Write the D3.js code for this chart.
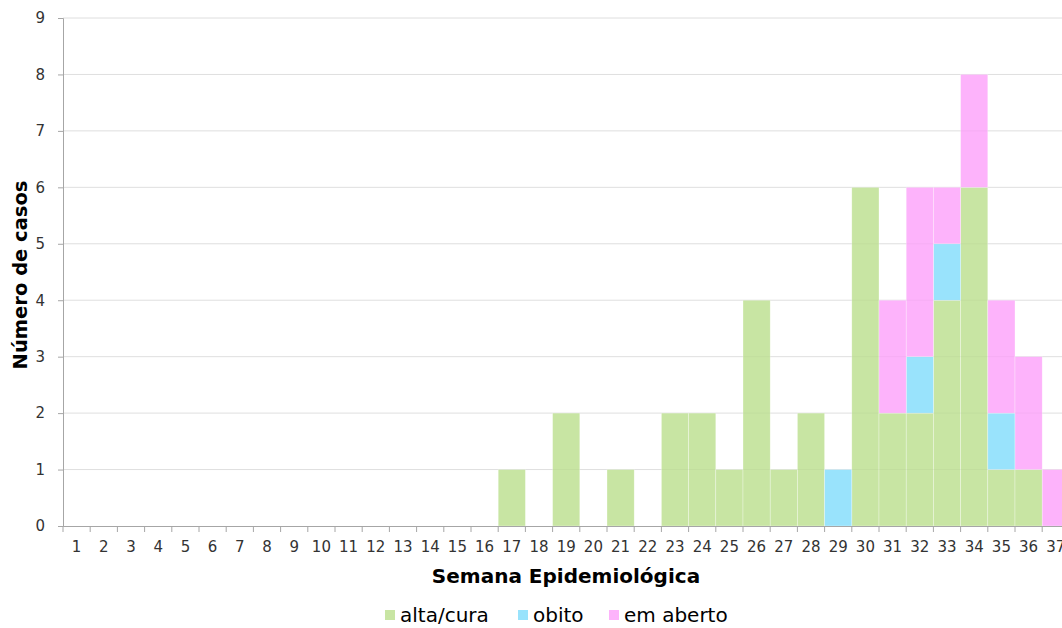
<!DOCTYPE html>
<html><head><meta charset="utf-8">
<script src="https://cdn.jsdelivr.net/npm/d3@7/dist/d3.min.js"></script>
<style>body{margin:0;background:#fff;} text{font-family:"DejaVu Sans",Verdana,sans-serif;}</style>
</head><body>
<svg id="c" width="1062" height="628"></svg>
<script>
const weeks = d3.range(1, 38).map(String);
const altaCura = [0,0,0,0,0,0,0,0,0,0,0,0,0,0,0,0,1,0,2,0,1,0,2,2,1,4,1,2,0,6,2,2,4,6,1,1,0];
const obito    = [0,0,0,0,0,0,0,0,0,0,0,0,0,0,0,0,0,0,0,0,0,0,0,0,0,0,0,0,1,0,0,1,1,0,1,0,0];
const emAberto = [0,0,0,0,0,0,0,0,0,0,0,0,0,0,0,0,0,0,0,0,0,0,0,0,0,0,0,0,0,0,2,3,1,2,2,2,1];
const seriesNames = ["alta/cura","obito","em aberto"];
const colors = ["#c8e5a3","#99e3fc","#fdb3fb"];
const yTicks = d3.range(0, 10);

const svg = d3.select("#c");
const x = d3.scaleBand().domain(weeks).range([63, 1069.4]).padding(0);
const y = d3.scaleLinear().domain([0, 9]).range([526, 18]);

const rows = weeks.map((w,i)=>({w, "alta/cura":altaCura[i], "obito":obito[i], "em aberto":emAberto[i]}));
const stack = d3.stack().keys(seriesNames)(rows);

// gridlines
svg.append("g").selectAll("line").data(yTicks.filter(d=>d>0)).join("line")
  .attr("x1",63).attr("x2",1062).attr("y1",d=>y(d)).attr("y2",d=>y(d))
  .attr("stroke","#e6e6e6").attr("stroke-width",1);

// bars
svg.append("g").selectAll("g").data(stack).join("g")
  .attr("fill",(d,i)=>colors[i])
  .selectAll("rect").data(d=>d.filter(p=>p[1]-p[0]>0)).join("rect")
  .attr("x",d=>x(d.data.w)).attr("width",x.bandwidth())
  .attr("y",d=>y(d[1])).attr("height",d=>y(d[0])-y(d[1]))
  .attr("stroke","#ffffff").attr("stroke-opacity",0.5).attr("stroke-width",0.6);

// faint gridlines through bars
svg.append("g").selectAll("line").data(yTicks.filter(d=>d>0)).join("line")
  .attr("x1",63).attr("x2",1062).attr("y1",d=>y(d)).attr("y2",d=>y(d))
  .attr("stroke","#000").attr("stroke-opacity",0.03).attr("stroke-width",1);

// y axis
const ya = svg.append("g").attr("transform","translate(63,0)")
  .call(d3.axisLeft(y).tickValues(yTicks).tickSize(5).tickPadding(13).tickFormat(d3.format("d")));
ya.select(".domain").attr("stroke","#a6a6a6");
ya.selectAll(".tick line").attr("stroke","#a6a6a6");
ya.selectAll(".tick text").attr("font-size",15).attr("fill","#333").attr("font-family","DejaVu Sans");

// x axis
const xa = svg.append("g").attr("transform","translate(0,526)")
  .call(d3.axisBottom(x).tickSize(0).tickPadding(15));
xa.select(".domain").attr("stroke","#a6a6a6").attr("d","M63,0.5H1062");
xa.selectAll(".tick text").attr("font-size",15).attr("fill","#333").attr("font-family","DejaVu Sans");
// boundary ticks
svg.append("g").selectAll("line").data(weeks.concat(["end"])).join("line")
  .attr("x1",(d,i)=>63 + i*x.step()).attr("x2",(d,i)=>63 + i*x.step())
  .attr("y1",526).attr("y2",532).attr("stroke","#a6a6a6");

// axis titles
svg.append("text").attr("x",566).attr("y",583).attr("text-anchor","middle")
  .attr("font-size",20).attr("font-weight","bold").attr("fill","#000").text("Semana Epidemiológica");
svg.append("text").attr("transform","translate(27,275) rotate(-90)").attr("text-anchor","middle")
  .attr("font-size",19.5).attr("font-weight","bold").attr("fill","#000").text("Número de casos");

// legend
const legX = [385, 518, 609];
const lg = svg.append("g").selectAll("g").data(seriesNames).join("g")
  .attr("transform",(d,i)=>`translate(${legX[i]},615)`);
lg.append("rect").attr("x",0).attr("y",-5).attr("width",10).attr("height",10).attr("fill",(d,i)=>colors[i]);
lg.append("text").attr("x",15).attr("y",7).attr("font-size",20).attr("fill","#000").text(d=>d);
</script>
</body></html>
